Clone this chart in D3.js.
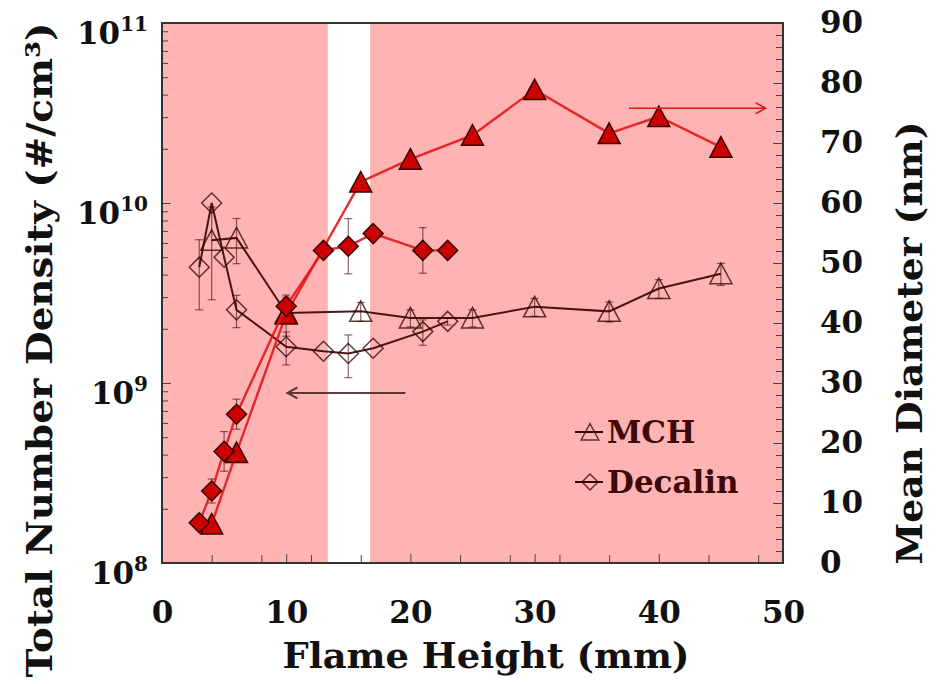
<!DOCTYPE html>
<html>
<head>
<meta charset="utf-8">
<script src="https://cdn.jsdelivr.net/npm/d3@7"></script>
<style>
	body { margin: 0; background: #fff; }
	text { font-family: "DejaVu Serif", serif; font-weight: bold; }
</style>
</head>
<body>
<script>
// flame height (mm) for each fuel
var heightsMCH = [4, 6, 10, 16, 20, 25, 30, 36, 40, 45];
var heightsDecalin = [3, 4, 5, 6, 10, 13, 15, 17, 21, 23];

// total number density (#/cm3), left axis
var densityMCH = [6.2e9, 6.4e9, 2.45e9, 2.5e9, 2.3e9, 2.3e9, 2.65e9, 2.5e9, 3.35e9, 4.05e9];
var densityErrMCH = [3.3e9, 1.8e9, 0.63e9, 0.3e9, 0.25e9, 0.25e9, 0.3e9, 0.32e9, 0.4e9, 0.57e9];
var densityDecalin = [4.4e9, 1.0e10, 5.0e9, 2.55e9, 1.59e9, 1.5e9, 1.46e9, 1.56e9, 1.93e9, 2.2e9];
var densityErrDecalin = [1.85e9, 0, 0, 0.52e9, 0.33e9, 0, 0.39e9, 0, 0.31e9, 0.1e9];

// mean diameter (nm), right axis
var diameterMCH = [6.5, 18.4, 41.5, 63.5, 67.3, 71.3, 78.9, 71.6, 74.4, 69.3];
var diameterDecalin = [6.7, 12, 18.6, 24.8, 42.8, 52.1, 52.8, 54.9, 52.1, 52.1];
var diameterErrDecalin = [0, 2, 3.3, 2.5, 1.5, 0, 4.6, 0, 3.8, 0];

// shaded flame regions (mm) and axis ticks
var shadedBands = [[0, 13.35], [16.75, 50]];
var xTicks = [0, 10, 20, 30, 40, 50];
var leftTicks = [1e8, 1e9, 1e10, 1e11];
var leftExponents = ["8", "9", "10", "11"];
var rightTicks = [0, 10, 20, 30, 40, 50, 60, 70, 80, 90];
var legendNames = ["MCH", "Decalin"];

// arrows: [from height, to height, value]
var densityArrow = [19.6, 10.1, 8.8e8];
var diameterArrow = [37.6, 48.6, 75.8];

window.onload = function () {
	var width = 937, height = 684;
	var left = 162, right = 783, top = 23, bottom = 563;

	var svg = d3.select("body").append("svg").attr("width", width).attr("height", height);

	var x = d3.scaleLinear().domain([0, 50]).range([left, right]);
	var yL = d3.scaleLog().domain([1e8, 1e11]).range([bottom, top]);
	var yR = d3.scaleLinear().domain([0, 90]).range([bottom, top]);

	var darkLine = "#3a0000", markerStroke = "rgba(45,0,0,0.75)";
	var redLine = "#e3161a", redFill = "#cc0000";

	var triPath = "M0,-10.5L11,10L-11,10Z";
	var diaPath = "M0,-10L10,0L0,10L-10,0Z";

	// background
	svg.selectAll(".band").data(shadedBands).enter().append("rect").attr("class", "band")
		.attr("x", function (d) { return x(d[0]); }).attr("y", top)
		.attr("width", function (d) { return x(d[1]) - x(d[0]); }).attr("height", bottom - top)
		.attr("fill", "#ffb3b3");

	// axes (ticks point inwards)
	function clean(g) { g.select(".domain").remove(); g.selectAll("line").attr("stroke", "#444"); }

	var minorX = d3.range(0, 50, 4).filter(function (d) { return d % 10 != 0; });
	svg.append("g").attr("transform", "translate(0," + bottom + ")")
		.call(d3.axisBottom(x).tickValues(minorX).tickSize(-8).tickFormat("")).call(clean);
	svg.append("g").attr("transform", "translate(0," + bottom + ")")
		.call(d3.axisBottom(x).tickValues(xTicks).tickSize(-9).tickPadding(38)).call(clean)
		.selectAll("text").attr("font-size", 31).attr("fill", "#111");

	var minorL = [];
	[8, 9, 10].forEach(function (p) { for (var m = 2; m < 10; m++) minorL.push(m * Math.pow(10, p)); });
	svg.append("g").attr("transform", "translate(" + left + ",0)")
		.call(d3.axisLeft(yL).tickValues(minorL).tickSize(-6).tickFormat("")).call(clean);
	svg.append("g").attr("transform", "translate(" + left + ",0)")
		.call(d3.axisLeft(yL).tickValues(leftTicks).tickSize(-9).tickFormat("")).call(clean);

	var lbl = svg.selectAll(".ylab").data(leftTicks).enter().append("text").attr("class", "ylab")
		.attr("x", 148).attr("y", function (d) { return yL(d) + 21; })
		.attr("text-anchor", "end").attr("fill", "#111").attr("font-size", 31);
	lbl.append("tspan").text("10");
	lbl.append("tspan").attr("dy", -13).attr("font-size", 20).text(function (d, i) { return leftExponents[i]; });

	var minorR = d3.range(0, 91, 2).filter(function (d) { return d % 10 != 0; });
	svg.append("g").attr("transform", "translate(" + right + ",0)")
		.call(d3.axisRight(yR).tickValues(minorR).tickSize(-7).tickFormat("")).call(clean);
	svg.append("g").attr("transform", "translate(" + right + ",0)")
		.call(d3.axisRight(yR).tickValues(rightTicks).tickSize(-10).tickPadding(37)).call(clean)
		.selectAll("text").attr("font-size", 31).attr("fill", "#111");

	// frame
	svg.append("rect").attr("x", left).attr("y", top).attr("width", right - left).attr("height", bottom - top)
		.attr("fill", "none").attr("stroke", "#333").attr("stroke-width", 2);

	// error bars
	function errorBars(xs, ys, errs, yScale, color) {
		var g = svg.append("g").attr("stroke", color).attr("stroke-width", 1.2);
		xs.forEach(function (h, i) {
			if (!errs[i]) return;
			var y1 = yScale(ys[i] + errs[i]), y2 = yScale(ys[i] - errs[i]), cx = x(h);
			g.append("line").attr("x1", cx).attr("x2", cx).attr("y1", y1).attr("y2", y2);
			g.append("line").attr("x1", cx - 4).attr("x2", cx + 4).attr("y1", y1).attr("y2", y1);
			g.append("line").attr("x1", cx - 4).attr("x2", cx + 4).attr("y1", y2).attr("y2", y2);
		});
	}

	function series(xs, ys, yScale, lineColor, lw, path, fill, stroke) {
		var pts = xs.map(function (h, i) { return [x(h), yScale(ys[i])]; });
		svg.append("path").attr("d", d3.line()(pts)).attr("fill", "none")
			.attr("stroke", lineColor).attr("stroke-width", lw).attr("stroke-opacity", 0.9);
		svg.append("g").selectAll("path").data(pts).enter().append("path")
			.attr("transform", function (d) { return "translate(" + d[0] + "," + d[1] + ")"; })
			.attr("d", path).attr("fill", fill).attr("stroke", stroke).attr("stroke-width", 1.5);
	}

	errorBars(heightsMCH, densityMCH, densityErrMCH, yL, "rgba(60,10,10,0.6)");
	errorBars(heightsDecalin, densityDecalin, densityErrDecalin, yL, "rgba(60,10,10,0.6)");
	series(heightsMCH, densityMCH, yL, darkLine, 2, triPath, "none", markerStroke);
	series(heightsDecalin, densityDecalin, yL, darkLine, 2, diaPath, "none", markerStroke);

	errorBars(heightsDecalin, diameterDecalin, diameterErrDecalin, yR, "rgba(60,10,10,0.6)");
	series(heightsMCH, diameterMCH, yR, redLine, 2.4, triPath, redFill, "#3a0000");
	series(heightsDecalin, diameterDecalin, yR, redLine, 2.4, diaPath, redFill, "#3a0000");

	// arrows
	function arrow(a, yScale, color, w) {
		var x1 = x(a[0]), x2 = x(a[1]), yy = yScale(a[2]), s = x2 > x1 ? -1 : 1;
		svg.append("path").attr("fill", "none").attr("stroke", color).attr("stroke-width", w)
			.attr("d", "M" + x1 + "," + yy + "L" + x2 + "," + yy +
				"M" + (x2 + s * 10) + "," + (yy - 5.5) + "L" + x2 + "," + yy + "L" + (x2 + s * 10) + "," + (yy + 5.5));
	}
	arrow(densityArrow, yL, "rgba(50,20,20,0.8)", 2);
	arrow(diameterArrow, yR, redLine, 1.6);

	// legend
	var leg = svg.selectAll(".legend").data(legendNames).enter().append("g").attr("class", "legend")
		.attr("transform", function (d, i) { return "translate(590," + (432 + i * 50) + ")"; });
	leg.append("line").attr("x1", -15).attr("x2", 13).attr("stroke", darkLine).attr("stroke-width", 2);
	leg.append("path").attr("d", function (d, i) { return i == 0 ? triPath : diaPath; })
		.attr("transform", "scale(0.8)")
		.attr("fill", "none").attr("stroke", markerStroke).attr("stroke-width", 1.8);
	leg.append("text").attr("x", 17).attr("y", 11).attr("font-size", 31).attr("fill", "#3c0a0a")
		.text(function (d) { return d; });

	// axis titles
	svg.append("text").attr("x", 486).attr("y", 668).attr("text-anchor", "middle")
		.attr("font-size", 36).attr("fill", "#111").attr("textLength", 407).attr("lengthAdjust", "spacingAndGlyphs")
		.text("Flame Height (mm)");
	svg.append("text").attr("transform", "translate(52,350) rotate(-90)").attr("text-anchor", "middle")
		.attr("font-size", 36).attr("fill", "#111").attr("textLength", 655).attr("lengthAdjust", "spacingAndGlyphs")
		.text("Total Number Density (#/cm³)");
	svg.append("text").attr("transform", "translate(922,343) rotate(-90)").attr("text-anchor", "middle")
		.attr("font-size", 36).attr("fill", "#111").attr("textLength", 443).attr("lengthAdjust", "spacingAndGlyphs")
		.text("Mean Diameter (nm)");
};
</script>
</body>
</html>
